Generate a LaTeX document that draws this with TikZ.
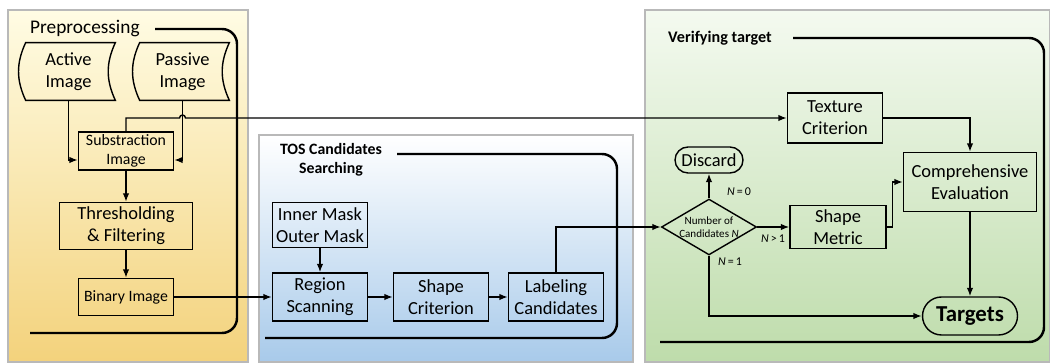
\documentclass[tikz,border=0pt]{standalone}
\usepackage{fontspec}
\setmainfont{Carlito}
\usetikzlibrary{shapes.geometric,calc,arrows.meta}

\definecolor{yelTop}{HTML}{FFFCE4}
\definecolor{yelMid}{HTML}{FAEDB8}
\definecolor{yelBot}{HTML}{F3D27C}
\definecolor{bluTop}{HTML}{FFFFFF}
\definecolor{bluMid}{HTML}{D6E7F6}
\definecolor{bluBot}{HTML}{A8CAEA}
\definecolor{grnTop}{HTML}{F4FAF0}
\definecolor{grnMid}{HTML}{D6EBCA}
\definecolor{grnBot}{HTML}{BEDCAB}

\tikzset{
  panel/.style={draw=gray!55,line width=1.2pt},
  bracket/.style={line width=1.4pt,rounded corners=0.3cm},
  box/.style={draw,line width=0.8pt,align=center,inner sep=0pt,
    font=\fontsize{10.5}{12.5}\selectfont},
  smallbox/.style={box,font=\fontsize{9}{10.5}\selectfont},
  stored/.style={align=center,inner sep=0pt,minimum width=1.86cm,
    minimum height=1.14cm,font=\fontsize{10.5}{12.5}\selectfont},
  decide/.style={diamond,draw,line width=0.8pt,aspect=1.7,inner sep=0pt,
    minimum width=1.9cm,align=center,font=\fontsize{6.3}{7.5}\selectfont},
  cond/.style={font=\fontsize{6.8}{8}\selectfont},
  line/.style={line width=0.8pt,-{Latex[length=1.7mm,width=1.3mm]}}
}

\begin{document}
\begin{tikzpicture}[x=0.02cm,y=0.02cm]
  \useasboundingbox (0,0) rectangle (1050,364);

  % panels
  \path[panel,top color=yelTop,middle color=yelMid,bottom color=yelBot] (8,2) rectangle (248,354);
  \path[panel,top color=bluTop,middle color=bluMid,bottom color=bluBot] (259,2) rectangle (633,229);
  \path[panel,top color=grnTop,middle color=grnMid,bottom color=grnBot] (645,2) rectangle (1050,354);

  \draw[bracket] (155,335) -- (237,335) -- (237,31) -- (30,31);
  \draw[bracket] (397,210) -- (617,210) -- (617,26) -- (265,26);
  \draw[bracket] (793,326) -- (1044,326) -- (1044,22) -- (660,22);

  \node[anchor=west,font=\fontsize{11}{13}\selectfont] (pre) at (24,335) {Preprocessing};
  \node[align=center,font=\bfseries\fontsize{9}{11}\selectfont] (tos) at (331,204) {TOS Candidates\\Searching};
  \node[anchor=west,font=\bfseries\fontsize{9.2}{11}\selectfont] (ver) at (662,326) {Verifying target};

  % preprocessing
  \node[stored] (act) at (68.5,292.5) {Active\\Image};
  \node[stored] (pas) at (182.5,292.5) {Passive\\Image};
  \foreach \n in {act,pas}
    \draw[line width=0.8pt] ([xshift=0.08cm]\n.north west) -- (\n.north east)
      to[bend right=25] (\n.south east) -- ([xshift=0.08cm]\n.south west)
      to[bend left=25] cycle;
  \node[smallbox,minimum width=1.9cm,minimum height=0.76cm] (sub) at (126,213) {Substraction\\Image};
  \node[box,minimum width=2.66cm,minimum height=0.94cm] (thr) at (126,138) {Thresholding\\\& Filtering};
  \node[smallbox,minimum width=1.9cm,minimum height=0.74cm] (bin) at (126,67) {Binary Image};

  % candidates searching
  \node[box,minimum width=1.9cm,minimum height=0.9cm] (msk) at (320,139) {Inner Mask\\Outer Mask};
  \node[box,minimum width=1.9cm,minimum height=0.96cm] (reg) at (320,67) {Region\\Scanning};
  \node[box,minimum width=1.9cm,minimum height=0.96cm] (shc) at (441,67) {Shape\\Criterion};
  \node[box,minimum width=1.9cm,minimum height=0.96cm] (lab) at (556,67) {Labeling\\Candidates};

  % verifying
  \node[box,minimum width=1.9cm,minimum height=1cm] (tex) at (835,246) {Texture\\Criterion};
  \node[box,rounded corners=0.26cm,minimum width=1.36cm,minimum height=0.52cm] (dis) at (709,204) {Discard};
  \node[decide] (dia) at (709,137) {Number of\\Candidates \textit{N}};
  \node[box,minimum width=1.92cm,minimum height=0.86cm] (shm) at (838,137) {Shape\\Metric};
  \node[box,minimum width=2.66cm,minimum height=1.18cm] (cmp) at (970,182) {Comprehensive\\Evaluation};
  \node[box,rounded corners=0.38cm,minimum width=1.9cm,minimum height=0.76cm,
    font=\bfseries\fontsize{13}{15}\selectfont] (tgt) at (970,48) {Targets};

  % connectors
  \draw[line] (act.south) |- ([yshift=-0.18cm]sub.west);
  \draw[line] (pas.south) |- ([yshift=-0.18cm]sub.east);
  \draw[line] (sub.north) |- ([xshift=-0.06cm]pas.south |- tex.west)
    arc[start angle=180,end angle=0,radius=0.06cm] -- (tex.west);
  \draw[line] (sub) -- (thr);
  \draw[line] (thr) -- (bin);
  \draw[line] (bin) -- (reg);
  \draw[line] (msk) -- (reg);
  \draw[line] (reg) -- (shc);
  \draw[line] (shc) -- (lab);
  \draw[line] (lab.north) |- (dia.west);
  \draw[line] (dia.north) -- (dis.south);
  \draw[line] (dia.east) -- (shm.west);
  \draw[line] (dia.south) |- (tgt.west);
  \draw[line] (tex.east) -| (cmp.north);
  \draw[line] (shm.east) -- ++(0.12cm,0) |- (cmp.west);
  \draw[line] (cmp) -- (tgt);

  \node[cond] (c0) at (739,172) {\textit{N}\,=\,0};
  \node[cond] (c2) at (773,125) {\textit{N}\,>\,1};
  \node[cond] (c1) at (730,102) {\textit{N}\,=\,1};
\end{tikzpicture}
\end{document}
